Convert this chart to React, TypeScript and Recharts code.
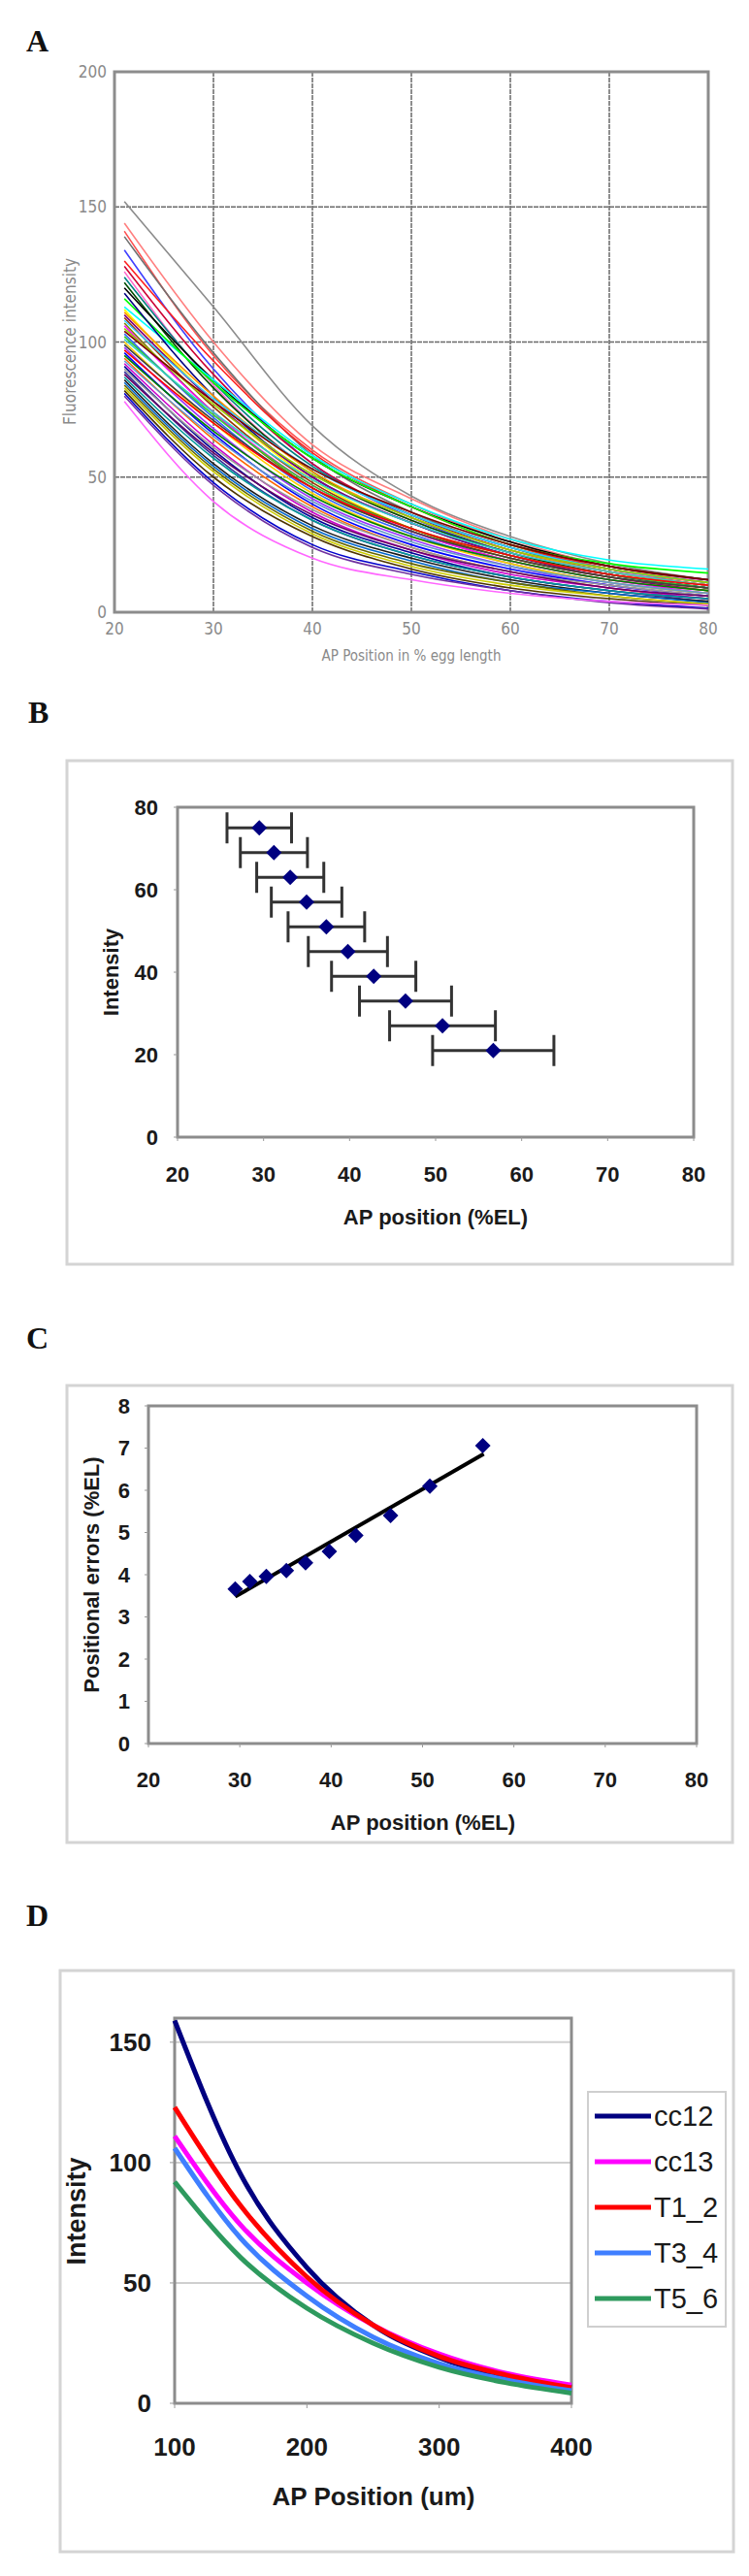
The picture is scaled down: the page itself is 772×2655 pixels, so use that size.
import React from 'react';
import {
  LineChart, Line, XAxis, YAxis, CartesianGrid, ScatterChart, Scatter, ErrorBar, ReferenceArea,
} from 'recharts';

// ---------- Panel A : individual intensity profiles ----------
const A_X = [21, 30, 40, 50, 60, 70, 80];
const A_X_TICKS = [20, 30, 40, 50, 60, 70, 80];
const A_Y_TICKS = [0, 50, 100, 150, 200];
const A_COLORS = [
  '#8c8c8c', '#ff7f7f', '#ff5050', '#707070', '#4040ff', '#ff2020', '#cc0033', '#ff66cc',
  '#008080', '#004d00', '#000000', '#00ffff', '#00ff00', '#000080', '#ffff00', '#ff9900',
  '#800080', '#993300', '#33ccff', '#808000', '#ff00ff', '#99cc00', '#800000', '#3366ff',
  '#33cc33', '#33cccc', '#ffcc00', '#404040', '#9933ff', '#ff0000', '#0000ff', '#008000',
  '#ff6600', '#6699cc', '#cc00cc', '#000099', '#999999', '#333399', '#660066', '#009999',
  '#1a1a1a', '#0066cc', '#666600', '#cccc00', '#4d3300', '#0000cc', '#7030a0', '#ff66ff',
];
const A_CURVES: number[][] = [
  [152, 113, 69, 43, 28, 18, 12],
  [144, 100, 62, 42, 27, 17, 11],
  [141, 95, 60, 40, 26, 16, 10],
  [139, 96, 58, 37, 24, 15, 10],
  [134, 90, 55, 35, 22, 14, 9],
  [130, 93, 59, 39, 25, 16, 11],
  [128, 88, 55, 36, 23, 15, 10],
  [126, 84, 52, 34, 22, 15, 12],
  [124, 85, 54, 36, 24, 16, 11],
  [122, 83, 52, 34, 22, 14, 9],
  [120, 86, 57, 39, 26, 17, 12],
  [113, 86, 58, 40, 27, 19.3, 16],
  [116, 85, 57, 39, 25, 18, 14.5],
  [118, 80, 50, 33, 21, 14, 9],
  [112, 78, 49, 31, 20, 13, 8],
  [111, 80, 52, 35, 23, 15, 10],
  [110, 78, 50, 33, 21, 13, 8],
  [109, 76, 48, 31, 20, 13, 9],
  [108, 79, 53, 36, 24, 16, 11],
  [107, 74, 46, 30, 19, 12, 8],
  [106, 74, 47, 30, 19, 12, 7],
  [105, 77, 51, 35, 23, 16, 11],
  [104, 78, 53, 37, 25, 17, 12],
  [103, 72, 45, 29, 18, 11, 7],
  [102, 73, 47, 31, 21, 14, 9],
  [101, 74, 49, 33, 22, 15, 10],
  [100, 70, 44, 28, 18, 11, 7],
  [99, 71, 46, 30, 20, 13, 9],
  [98, 68, 42, 27, 17, 10, 6],
  [97, 70, 46, 31, 21, 14, 10],
  [96, 66, 40, 25, 16, 10, 6],
  [95, 67, 43, 28, 19, 12, 8],
  [94, 64, 39, 24, 15, 9, 5],
  [93, 65, 41, 26, 17, 11, 7],
  [92, 62, 37, 23, 14, 9, 5],
  [91, 60, 35, 22, 13, 8, 5],
  [90, 61, 38, 24, 15, 10, 6],
  [89, 58, 34, 21, 13, 8, 4],
  [88, 59, 36, 23, 15, 9, 6],
  [87, 57, 34, 21, 13, 8, 5],
  [86, 55, 32, 20, 12, 7, 4],
  [85, 54, 31, 19, 11, 7, 3.5],
  [84, 53, 30, 18, 11, 6, 3],
  [83, 52, 29, 17, 10, 6, 3],
  [82, 50, 28, 16, 9, 5, 2.5],
  [81, 48, 25, 15, 8, 4, 1.5],
  [80, 47, 24, 14, 8, 3.5, 1.2],
  [78, 41, 20, 12, 7, 4, 2.6],
];

// ---------- Panel B : intensity vs AP position with positional error ----------
const B_POS = [29.5, 31.2, 33.1, 35.0, 37.3, 39.8, 42.8, 46.5, 50.8, 56.7];
const B_INTENSITY = [75, 69, 63, 57, 51, 45, 39, 33, 27, 21];
const B_ERROR = [3.75, 3.9, 3.9, 4.1, 4.45, 4.6, 4.9, 5.35, 6.15, 7.05];
const B_X_TICKS = [20, 30, 40, 50, 60, 70, 80];
const B_Y_TICKS = [0, 20, 40, 60, 80];

// ---------- Panel C : positional error vs AP position ----------
const C_POS = [29.5, 31.1, 32.9, 35.1, 37.2, 39.8, 42.7, 46.5, 50.8, 56.6];
const C_ERROR = [3.66, 3.84, 3.96, 4.1, 4.28, 4.55, 4.93, 5.4, 6.1, 7.06];
const C_TREND_X = [29.5, 56.7];
const C_TREND_Y = [3.48, 6.86];
const C_X_TICKS = [20, 30, 40, 50, 60, 70, 80];
const C_Y_TICKS = [0, 1, 2, 3, 4, 5, 6, 7, 8];

// ---------- Panel D : mean profiles per stage ----------
const D_X = [100, 150, 200, 250, 300, 350, 400];
const D_NAMES = ['cc12', 'cc13', 'T1_2', 'T3_4', 'T5_6'];
const D_COLORS = ['#000080', '#ff00ff', '#ff0000', '#3f7fff', '#2e9a5e'];
const D_CC12 = [159, 95, 56.4, 32.5, 19, 11, 6.8];
const D_CC13 = [111, 74, 50, 32.5, 20.5, 12.5, 7.6];
const D_T1_2 = [123, 82, 52.5, 32.5, 19.5, 11.8, 6.5];
const D_T3_4 = [106, 68.5, 44.5, 27.5, 16.5, 9.8, 5.2];
const D_T5_6 = [92, 60.5, 39.5, 25, 15, 8.6, 4.2];
const D_X_TICKS = [100, 200, 300, 400];
const D_Y_TICKS = [0, 50, 100, 150];

// ---------- derived tables ----------
const aRows = A_X.map((x, i) => {
  const r: Record<string, number> = { x };
  A_CURVES.forEach((c, k) => { r['c' + k] = c[i]; });
  return r;
});
const bRows = B_POS.map((x, i) => ({ x, y: B_INTENSITY[i], err: B_ERROR[i] }));
const cRows = C_POS.map((x, i) => ({ x, y: C_ERROR[i] }));
const cTrend = C_TREND_X.map((x, i) => ({ x, y: C_TREND_Y[i] }));
const D_SERIES = [D_CC12, D_CC13, D_T1_2, D_T3_4, D_T5_6];
const dRows = D_X.map((x, i) => {
  const r: Record<string, number> = { x };
  D_NAMES.forEach((n, k) => { r[n] = D_SERIES[k][i]; });
  return r;
});

const NARROW = "'Liberation Sans Narrow', 'DejaVu Sans Condensed', 'Arial Narrow', sans-serif";
const SANS = "'Liberation Sans', Arial, sans-serif";
const SERIF = "'Liberation Serif', 'Times New Roman', serif";

const Diamond = (p: any) => {
  const { cx, cy } = p;
  const r = 8;
  return (
    <polygon
      points={`${cx},${cy - r} ${cx + r},${cy} ${cx},${cy + r} ${cx - r},${cy}`}
      fill="#000080"
    />
  );
};
const Empty = () => <g />;

const boldTick = (size: number) => ({ fill: '#1a1a1a', fontSize: size, fontWeight: 700, fontFamily: SANS });

export default function App() {
  return (
    <div style={{ position: 'absolute', left: 0, top: 0, width: 772, height: 2655, background: '#fff' }}>
      {/* overlay: panel letters, frames, axis titles, legend */}
      <svg width={772} height={2655} style={{ position: 'absolute', left: 0, top: 0 }}>
        <g fontFamily={SERIF} fontWeight={700} fontSize={32} fill="#111">
          <text x={27} y={53}>A</text>
          <text x={29} y={745}>B</text>
          <text x={27} y={1390}>C</text>
          <text x={27} y={1985}>D</text>
        </g>
        {/* panel A titles */}
        <text x={424} y={681} textAnchor="middle" fontFamily={NARROW} fontSize={15} fill="#8a8a8a">
          AP Position in % egg length
        </text>
        <text x={78} y={352} textAnchor="middle" fontFamily={NARROW} fontSize={17} fill="#8a8a8a"
          transform="rotate(-90 78 352)">Fluorescence intensity</text>

        {/* panel B frame & titles */}
        <rect x={69} y={784} width={686} height={519} fill="none" stroke="#d4d4d4" strokeWidth={3} />
        <text x={449} y={1262} textAnchor="middle" fontFamily={SANS} fontWeight={700} fontSize={22} fill="#1a1a1a">
          AP position (%EL)
        </text>
        <text x={122} y={1002} textAnchor="middle" fontFamily={SANS} fontWeight={700} fontSize={22} fill="#1a1a1a"
          transform="rotate(-90 122 1002)">Intensity</text>

        {/* panel C frame & titles */}
        <rect x={69} y={1428} width={686} height={471} fill="none" stroke="#d4d4d4" strokeWidth={3} />
        <text x={436} y={1886} textAnchor="middle" fontFamily={SANS} fontWeight={700} fontSize={22} fill="#1a1a1a">
          AP position (%EL)
        </text>
        <text x={102} y={1623} textAnchor="middle" fontFamily={SANS} fontWeight={700} fontSize={22} fill="#1a1a1a"
          transform="rotate(-90 102 1623)">Positional errors (%EL)</text>

        {/* panel D frame, titles & legend */}
        <rect x={62} y={2031} width={694} height={599} fill="none" stroke="#d4d4d4" strokeWidth={3} />
        <text x={385} y={2582} textAnchor="middle" fontFamily={SANS} fontWeight={700} fontSize={26} fill="#1a1a1a">
          AP Position (um)
        </text>
        <text x={88} y={2279} textAnchor="middle" fontFamily={SANS} fontWeight={700} fontSize={27} fill="#1a1a1a"
          transform="rotate(-90 88 2279)">Intensity</text>
        <rect x={606} y={2156} width={142} height={242} fill="#fff" stroke="#cfcfcf" strokeWidth={2} />
        {D_NAMES.map((n, i) => (
          <g key={n}>
            <line x1={613} x2={671} y1={2181 + 47 * i} y2={2181 + 47 * i} stroke={D_COLORS[i]} strokeWidth={5} />
            <text x={674} y={2191 + 47 * i} fontFamily={SANS} fontSize={29} fill="#1a1a1a">{n}</text>
          </g>
        ))}
      </svg>

      {/* Panel A */}
      <div style={{ position: 'absolute', left: 0, top: 60 }}>
        <LineChart width={772} height={640} data={aRows} margin={{ top: 14, right: 42, left: 0, bottom: 0 }}>
          <CartesianGrid stroke="#6a6a6a" strokeWidth={1.5} strokeDasharray="5 1" />
          <XAxis dataKey="x" type="number" domain={[20, 80]} ticks={A_X_TICKS} height={69}
            axisLine={false} tickLine={false} tickMargin={5}
            tick={{ fill: '#8a8a8a', fontSize: 17, fontFamily: NARROW }} />
          <YAxis type="number" domain={[0, 200]} ticks={A_Y_TICKS} width={118}
            axisLine={false} tickLine={false} tickMargin={2}
            tick={{ fill: '#8a8a8a', fontSize: 17, fontFamily: NARROW }} />
          {A_CURVES.map((_, k) => (
            <Line key={k} dataKey={'c' + k} type="monotone" stroke={A_COLORS[k]} strokeWidth={1.6}
              dot={false} isAnimationActive={false} />
          ))}
          <ReferenceArea x1={20} x2={80} y1={0} y2={200} fill="none" stroke="#8c8c8c" strokeWidth={3} />
        </LineChart>
      </div>

      {/* Panel B */}
      <div style={{ position: 'absolute', left: 69, top: 784 }}>
        <ScatterChart width={686} height={519} margin={{ top: 48, right: 40, left: 0, bottom: 0 }}>
          <XAxis dataKey="x" type="number" domain={[20, 80]} ticks={B_X_TICKS} height={131}
            axisLine={false} tickLine={{ stroke: '#999' }} tickSize={4} tickMargin={26} tick={boldTick(22)} />
          <YAxis dataKey="y" type="number" domain={[0, 80]} ticks={B_Y_TICKS} width={114}
            axisLine={false} tickLine={{ stroke: '#999' }} tickSize={4} tickMargin={16} tick={boldTick(22)} />
          <ReferenceArea x1={20} x2={80} y1={0} y2={80} fill="none" stroke="#8c8c8c" strokeWidth={3} />
          <Scatter data={bRows} shape={Diamond} isAnimationActive={false}>
            <ErrorBar dataKey="err" direction="x" width={16} stroke="#333" strokeWidth={3} />
          </Scatter>
        </ScatterChart>
      </div>

      {/* Panel C */}
      <div style={{ position: 'absolute', left: 69, top: 1428 }}>
        <ScatterChart width={686} height={471} margin={{ top: 21, right: 37, left: 0, bottom: 0 }}>
          <XAxis dataKey="x" type="number" domain={[20, 80]} ticks={C_X_TICKS} height={102}
            axisLine={false} tickLine={{ stroke: '#999' }} tickSize={4} tickMargin={25} tick={boldTick(22)} />
          <YAxis dataKey="y" type="number" domain={[0, 8]} ticks={C_Y_TICKS} width={84}
            axisLine={false} tickLine={{ stroke: '#999' }} tickSize={4} tickMargin={15} tick={boldTick(22)} />
          <ReferenceArea x1={20} x2={80} y1={0} y2={8} fill="none" stroke="#8c8c8c" strokeWidth={3} />
          <Scatter data={cTrend} line={{ stroke: '#000', strokeWidth: 4 }} shape={Empty} isAnimationActive={false} />
          <Scatter data={cRows} shape={Diamond} isAnimationActive={false} />
        </ScatterChart>
      </div>

      {/* Panel D */}
      <div style={{ position: 'absolute', left: 62, top: 2031 }}>
        <LineChart width={694} height={599} data={dRows} margin={{ top: 49, right: 167, left: 0, bottom: 0 }}>
          <CartesianGrid vertical={false} stroke="#cfcfcf" strokeWidth={2} />
          <XAxis dataKey="x" type="number" domain={[100, 400]} ticks={D_X_TICKS} height={153}
            axisLine={false} tickLine={{ stroke: '#999' }} tickSize={5} tickMargin={31} tick={boldTick(26)} />
          <YAxis type="number" domain={[0, 160]} ticks={D_Y_TICKS} width={118}
            axisLine={false} tickLine={{ stroke: '#999' }} tickSize={5} tickMargin={19} tick={boldTick(26)} />
          {D_NAMES.map((n, k) => (
            <Line key={n} dataKey={n} type="monotone" stroke={D_COLORS[k]} strokeWidth={5}
              dot={false} isAnimationActive={false} />
          ))}
          <ReferenceArea x1={100} x2={400} y1={0} y2={160} fill="none" stroke="#8c8c8c" strokeWidth={3} />
        </LineChart>
      </div>
    </div>
  );
}
